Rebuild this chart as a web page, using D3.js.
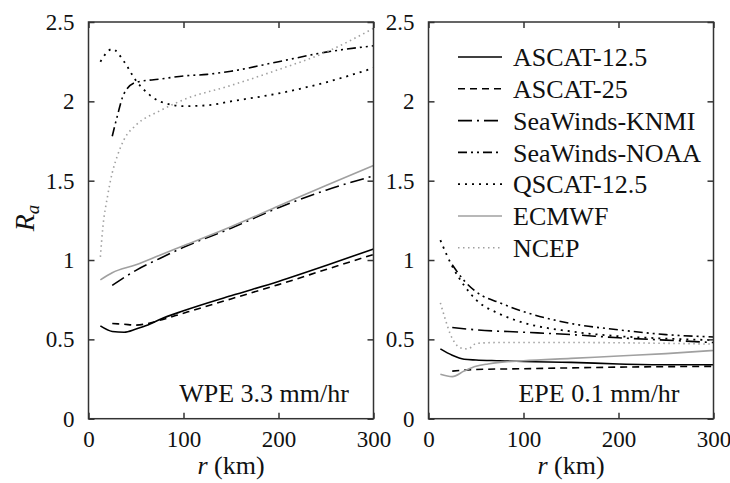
<!DOCTYPE html>
<html lang="en">
<head>
<meta charset="utf-8">
<title>Ra vs r</title>
<script src="https://d3js.org/d3.v7.min.js"></script>
<style>
  body { margin: 0; background: #fff; }
  text { font-family: "Liberation Serif", "Times New Roman", serif; fill: #111; }
</style>
</head>
<body>
<script>
// data: [r (km), Ra] pairs
var seriesNames = ["ASCAT-12.5", "ASCAT-25", "SeaWinds-KNMI", "SeaWinds-NOAA", "QSCAT-12.5", "ECMWF", "NCEP"];
var xTicks = [0, 100, 200, 300];
var yTicks = [0, 0.5, 1, 1.5, 2, 2.5];

// WPE 3.3 mm/hr panel
var wpeAscat125 = [[12.5,0.585],[25,0.55],[37.5,0.545],[50,0.565],[62.5,0.59],[75,0.625],[100,0.68],[150,0.775],[200,0.865],[250,0.965],[300,1.07]];
var wpeAscat25 = [[25,0.6],[37.5,0.595],[50,0.59],[62.5,0.6],[75,0.62],[100,0.665],[150,0.755],[200,0.845],[250,0.94],[300,1.035]];
var wpeKnmi = [[25,0.84],[37.5,0.89],[50,0.935],[75,1.01],[100,1.08],[150,1.2],[200,1.33],[250,1.44],[300,1.53]];
var wpeNoaa = [[25,1.78],[30,1.9],[37.5,2.05],[50,2.12],[75,2.14],[100,2.16],[125,2.17],[150,2.19],[200,2.25],[250,2.31],[300,2.35]];
var wpeQscat = [[12.5,2.25],[25,2.33],[37.5,2.25],[50,2.13],[62.5,2.05],[75,2.0],[100,1.97],[125,1.975],[150,2.0],[200,2.05],[250,2.12],[300,2.21]];
var wpeEcmwf = [[12.5,0.875],[25,0.92],[50,0.97],[75,1.03],[100,1.09],[150,1.21],[200,1.34],[250,1.47],[300,1.595]];
var wpeNcep = [[12.5,1.02],[15,1.2],[20,1.4],[25,1.55],[30,1.65],[37.5,1.76],[50,1.85],[75,1.94],[100,2.01],[150,2.1],[200,2.2],[250,2.31],[300,2.46]];

// EPE 0.1 mm/hr panel
var epeAscat125 = [[12.5,0.44],[25,0.4],[37.5,0.375],[50,0.37],[75,0.365],[100,0.36],[150,0.355],[200,0.345],[250,0.34],[300,0.34]];
var epeAscat25 = [[25,0.3],[50,0.31],[100,0.315],[200,0.325],[300,0.33]];
var epeKnmi = [[25,0.575],[50,0.56],[100,0.545],[150,0.53],[200,0.51],[250,0.495],[300,0.48]];
var epeNoaa = [[25,0.97],[37.5,0.87],[50,0.8],[75,0.73],[100,0.675],[150,0.6],[200,0.56],[250,0.53],[300,0.515]];
var epeQscat = [[12.5,1.125],[25,0.96],[37.5,0.84],[50,0.75],[75,0.66],[100,0.605],[150,0.55],[200,0.52],[250,0.505],[300,0.495]];
var epeEcmwf = [[12.5,0.28],[25,0.265],[37.5,0.3],[50,0.33],[62.5,0.345],[75,0.355],[100,0.365],[150,0.38],[200,0.395],[250,0.41],[300,0.43]];
var epeNcep = [[12.5,0.73],[17.5,0.63],[22.5,0.54],[27.5,0.48],[32.5,0.45],[40,0.44],[45,0.45],[50,0.475],[75,0.48],[150,0.48],[300,0.47]];

// line styles, in the same order as seriesNames
var styles = [
  {color: "#000", dash: null, width: 1.6},
  {color: "#000", dash: "7,5", width: 1.6},
  {color: "#000", dash: "14,5,2,5", width: 1.6},
  {color: "#000", dash: "9,4,2,4,2,4", width: 1.6},
  {color: "#000", dash: "2,5", width: 1.8},
  {color: "#a0a0a0", dash: null, width: 1.6},
  {color: "#a0a0a0", dash: "1.5,3.5", width: 1.6}
];

var w = 730, h = 483;
var svg = d3.select("body").append("svg").attr("width", w).attr("height", h);

var panels = [
  {left: 88.5, label: "WPE 3.3 mm/hr", labelX: 264, series: [wpeAscat125, wpeAscat25, wpeKnmi, wpeNoaa, wpeQscat, wpeEcmwf, wpeNcep]},
  {left: 428.5, label: "EPE 0.1 mm/hr", labelX: 599, series: [epeAscat125, epeAscat25, epeKnmi, epeNoaa, epeQscat, epeEcmwf, epeNcep]}
];
var plotTop = 22, plotBottom = 418.7, pw = 285;

var yScale = d3.scaleLinear().domain([0, 2.5]).range([plotBottom, plotTop]);

panels.forEach(function(p, pi) {
  var xScale = d3.scaleLinear().domain([0, 300]).range([p.left, p.left + pw]);
  var g = svg.append("g");

  var line = d3.line()
    .x(function(d) { return xScale(d[0]); })
    .y(function(d) { return yScale(d[1]); })
    .curve(d3.curveMonotoneX);

  p.series.forEach(function(s, i) {
    var st = styles[i];
    g.append("path")
      .attr("d", line(s))
      .attr("fill", "none")
      .attr("stroke", st.color)
      .attr("stroke-width", st.width)
      .attr("stroke-dasharray", st.dash);
  });

  // frame
  g.append("rect")
    .attr("x", p.left).attr("y", plotTop)
    .attr("width", pw).attr("height", plotBottom - plotTop)
    .attr("fill", "none").attr("stroke", "#333").attr("stroke-width", 1.5);

  // inward ticks on all four sides
  var gx = g.append("g").attr("transform", "translate(0," + plotBottom + ")")
    .call(d3.axisBottom(xScale).tickValues(xTicks).tickSizeInner(-6).tickSizeOuter(0).tickPadding(12)
      .tickFormat(d3.format("d")));
  var gxt = g.append("g").attr("transform", "translate(0," + plotTop + ")")
    .call(d3.axisTop(xScale).tickValues(xTicks).tickSizeInner(-6).tickSizeOuter(0).tickFormat(""));
  var gy = g.append("g").attr("transform", "translate(" + p.left + ",0)")
    .call(d3.axisLeft(yScale).tickValues(yTicks).tickSizeInner(-6).tickSizeOuter(0).tickPadding(14)
      .tickFormat(function(d) { return d; }));
  var gyr = g.append("g").attr("transform", "translate(" + (p.left + pw) + ",0)")
    .call(d3.axisRight(yScale).tickValues(yTicks).tickSizeInner(-6).tickSizeOuter(0).tickFormat(""));

  [gx, gxt, gy, gyr].forEach(function(a) {
    a.select(".domain").remove();
    a.selectAll(".tick line").attr("stroke", "#333").attr("stroke-width", 1.5);
    a.selectAll("text")
      .style("font-family", "'Liberation Serif', serif")
      .style("font-size", "23px").attr("fill", "#111");
  });

  // panel annotation
  g.append("text")
    .attr("x", p.labelX).attr("y", 402)
    .attr("text-anchor", "middle")
    .style("font-size", "26px")
    .text(p.label);

  // x axis title
  var xt = g.append("text")
    .attr("x", p.left + pw / 2).attr("y", 474)
    .attr("text-anchor", "middle")
    .style("font-size", "26px");
  xt.append("tspan").style("font-style", "italic").text("r");
  xt.append("tspan").text(" (km)");
});

// y axis title
var yt = svg.append("text")
  .attr("transform", "translate(34,218) rotate(-90)")
  .attr("text-anchor", "middle")
  .style("font-size", "28px");
yt.append("tspan").style("font-style", "italic").text("R");
yt.append("tspan").style("font-style", "italic").style("font-size", "19px").attr("dy", 5).text("a");

// legend in right panel
var legend = svg.append("g");
seriesNames.forEach(function(name, i) {
  var y = 57 + i * 31.8;
  var st = styles[i];
  legend.append("line")
    .attr("x1", 458).attr("x2", 502).attr("y1", y).attr("y2", y)
    .attr("stroke", st.color).attr("stroke-width", st.width)
    .attr("stroke-dasharray", st.dash);
  legend.append("text")
    .attr("x", 513).attr("y", y).attr("dy", "0.35em")
    .style("font-size", "26px")
    .text(name);
});
</script>
</body>
</html>
